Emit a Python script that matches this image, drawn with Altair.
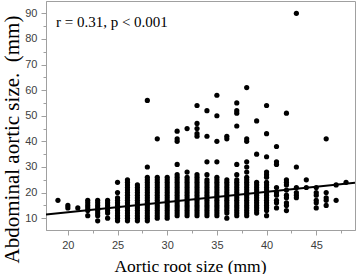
import altair as alt
import pandas as pd

# ---- data ----
col_x = [19, 20, 21, 22, 23, 24, 25, 26, 27, 28, 29, 30, 31, 32, 33,
         34, 35, 36, 37, 38, 39, 40, 41, 42, 43, 44, 45, 46, 47, 48]

col_y = [
    [17],
    [14, 15],
    [14],
    [11, 13, 14, 15, 16, 17],
    [9, 11, 12, 13, 14, 15, 16, 17],
    [10, 12, 13, 14, 15, 16, 17],
    [9, 10, 11, 12, 13, 14, 15, 16, 17, 18, 20, 24],
    [9, 10, 11, 12, 13, 14, 15, 16, 17, 18, 19, 20, 21, 22, 23, 24, 25],
    [9, 10, 11, 12, 13, 14, 15, 16, 17, 18, 19, 20, 21, 22, 23],
    [9, 10, 11, 12, 13, 14, 15, 16, 17, 18, 19, 20, 21, 22, 23, 24, 25, 26, 30, 56],
    [10, 11, 12, 13, 14, 15, 16, 17, 18, 19, 20, 21, 22, 23, 24, 25, 26, 41],
    [10, 11, 12, 13, 14, 15, 16, 17, 18, 19, 20, 21, 22, 23, 24, 25, 26],
    [11, 12, 13, 14, 15, 16, 17, 18, 19, 20, 21, 22, 23, 24, 25, 26, 27, 31, 40, 41, 44],
    [11, 12, 13, 14, 15, 16, 17, 18, 19, 20, 21, 22, 23, 24, 25, 26, 28, 45],
    [11, 12, 13, 14, 15, 16, 17, 18, 19, 20, 21, 22, 23, 24, 25, 26, 27, 42, 43, 45, 47, 54],
    [11, 12, 13, 14, 15, 16, 17, 18, 19, 20, 21, 22, 23, 24, 25, 27, 32, 42, 52],
    [11, 12, 13, 14, 15, 16, 17, 18, 19, 20, 21, 22, 23, 24, 25, 26, 32, 40, 50, 58],
    [10, 12, 13, 14, 15, 16, 17, 18, 19, 20, 21, 22, 23, 24, 25, 41, 42],
    [11, 12, 13, 14, 15, 16, 17, 18, 19, 20, 21, 22, 23, 24, 25, 27, 31, 46, 51, 52, 55],
    [11, 12, 13, 14, 15, 16, 17, 18, 19, 20, 21, 22, 23, 24, 25, 26, 28, 30, 32, 40, 41, 61],
    [12, 13, 14, 15, 16, 17, 18, 19, 20, 21, 22, 23, 24, 35, 48],
    [11, 13, 14, 15, 16, 17, 18, 19, 20, 21, 22, 23, 24, 26, 27, 28, 34, 43, 54],
    [14, 16, 17, 19, 20, 22, 31, 32, 38],
    [13, 15, 16, 18, 19, 21, 23, 24, 25, 51],
    [18, 19, 20, 22, 30, 90],
    [22, 25],
    [14, 16, 17, 19, 20, 22],
    [15, 17, 18, 20, 41],
    [17, 23],
    [24],
]

# fitted regression line
fit_x = [17.8, 48.9]
fit_intercept = 4.3
fit_slope = 0.40

note_text = ["r = 0.31, p < 0.001"]
note_x = [18.8]
note_y = [84.7]

x_ticks = [20, 22.5, 25, 27.5, 30, 32.5, 35, 37.5, 40, 42.5, 45, 47.5]
y_ticks = [10, 15, 20, 25, 30, 35, 40, 45, 50, 55, 60, 65, 70, 75, 80, 85, 90]

# ---- tables ----
points_df = pd.DataFrame(
    [{"x": x, "y": y} for x, ys in zip(col_x, col_y) for y in ys]
)
fit_df = pd.DataFrame({"x": fit_x, "y": [fit_intercept + fit_slope * v for v in fit_x]})
note_df = pd.DataFrame({"x": note_x, "y": note_y, "t": note_text})

x_scale = alt.Scale(domain=[17.8, 48.9], nice=False, zero=False)
y_scale = alt.Scale(domain=[5.4, 94.8], nice=False, zero=False)

axis_common = dict(
    grid=False,
    domainColor="#a0a0a0",
    tickColor="#a0a0a0",
    labelColor="#404040",
    labelFont="Liberation Sans",
    labelFontSize=11,
    labelOverlap=False,
    titleFont="Liberation Serif",
    titleFontWeight="normal",
    titleColor="black",
)

x_axis = alt.Axis(
    title="Aortic root size (mm)",
    values=x_ticks,
    labelExpr="(datum.value / 5) == floor(datum.value / 5) ? datum.label : ''",
    tickSize={"condition": {"test": "(datum.value / 5) == floor(datum.value / 5)", "value": 5}, "value": 3},
    labelPadding=4,
    titleFontSize=17.5,
    titleX=144,
    titleY=41,
    titleAlign="center",
    titleBaseline="alphabetic",
    **axis_common,
)

y_axis = alt.Axis(
    title="Abdominal aortic size.\u00a0 (mm)",
    values=y_ticks,
    labelExpr="(datum.value / 10) == floor(datum.value / 10) ? datum.label : ''",
    tickSize={"condition": {"test": "(datum.value / 10) == floor(datum.value / 10)", "value": 5}, "value": 3},
    labelPadding=4,
    titleFontSize=21,
    titleX=-34,
    titleY=138,
    titleAngle=270,
    titleAlign="center",
    titleBaseline="middle",
    **axis_common,
)

points = alt.Chart(points_df).mark_circle(color="black", size=27, opacity=1).encode(
    x=alt.X("x:Q", scale=x_scale, axis=x_axis),
    y=alt.Y("y:Q", scale=y_scale, axis=y_axis),
)

line = alt.Chart(fit_df).mark_line(color="black", strokeWidth=2, clip=True).encode(
    x=alt.X("x:Q", scale=x_scale, axis=x_axis),
    y=alt.Y("y:Q", scale=y_scale, axis=y_axis),
)

note = alt.Chart(note_df).mark_text(
    align="left", baseline="alphabetic", font="Liberation Serif", fontSize=15, color="black"
).encode(
    x=alt.X("x:Q", scale=x_scale, axis=x_axis),
    y=alt.Y("y:Q", scale=y_scale, axis=y_axis),
    text="t:N",
)

chart = (
    alt.layer(points, line, note)
    .properties(
        width=309,
        height=229,
        padding={"left": 46, "top": 1, "right": 1, "bottom": 44},
        autosize=alt.AutoSizeParams(type="none"),
    )
    .configure_axis(labelOverlap=False)
    .configure_view(stroke="#a0a0a0", strokeWidth=1)
)

chart.save("out.html", embed_options={"renderer": "svg", "actions": False})
